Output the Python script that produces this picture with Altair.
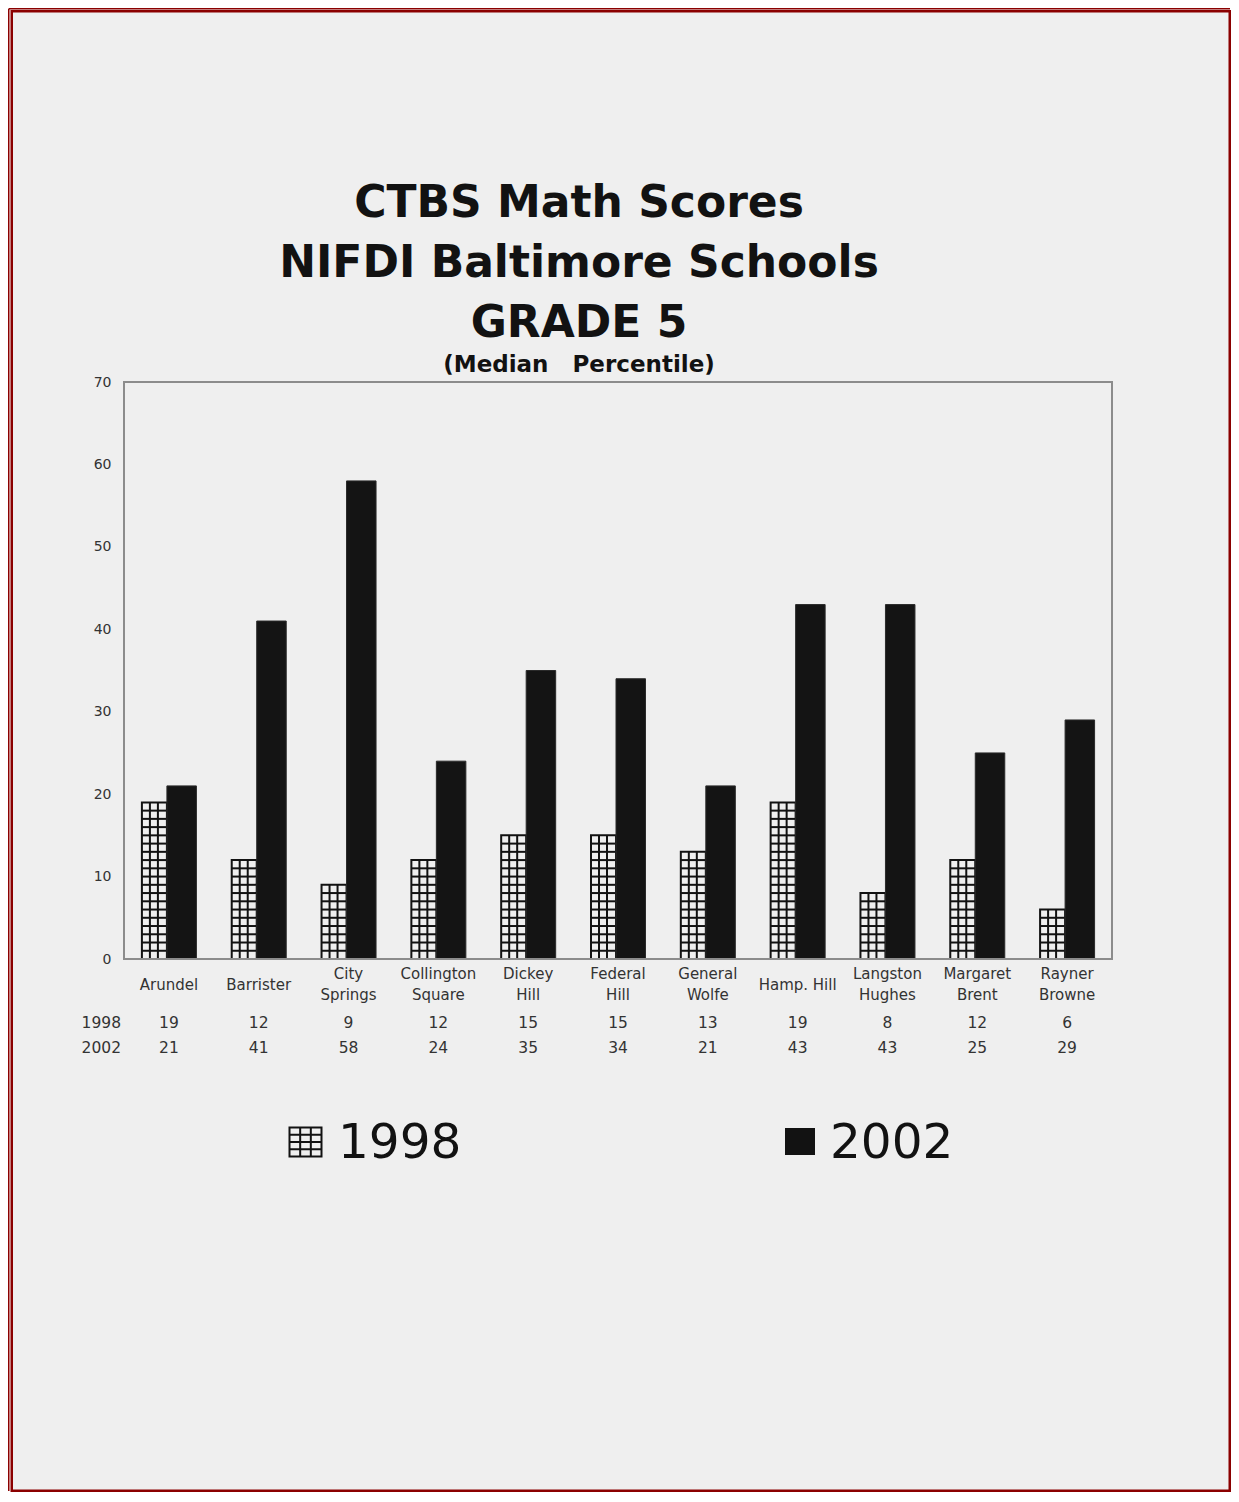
import altair as alt
import pandas as pd

# ---------------- data ----------------
schools = ["Arundel", "Barrister", "City Springs", "Collington Square", "Dickey Hill",
           "Federal Hill", "General Wolfe", "Hamp. Hill", "Langston Hughes",
           "Margaret Brent", "Rayner Browne"]
scores_1998 = [19, 12, 9, 12, 15, 15, 13, 19, 8, 12, 6]
scores_2002 = [21, 41, 58, 24, 35, 34, 21, 43, 43, 25, 29]
years = ["1998", "2002"]
title_lines = ["CTBS Math Scores", "NIFDI Baltimore Schools", "GRADE 5"]
subtitle = "(Median\u00a0\u00a0\u00a0Percentile)"
y_ticks = [0, 10, 20, 30, 40, 50, 60, 70]
one_line_labels = ["Arundel", "Barrister", "Hamp. Hill"]

# ---------------- styling ----------------
W, H = 988, 577
BG = "#efefef"
INK = "#121212"
RED = "#8b0000"
FONT = "DejaVu Sans"

df = pd.DataFrame({"school": schools, "s1998": scores_1998, "s2002": scores_2002})
levels = pd.DataFrame([{"school": s, "level": k}
                       for s, v in zip(schools, scores_1998) for k in range(1, v)])
one = pd.DataFrame({"k": [0]})

single_test = "indexof([" + ",".join("'%s'" % s for s in one_line_labels) + "], datum.value) >= 0"

x_axis = alt.Axis(
    title=None, labelAngle=0, tickSize=0, ticks=False, domain=False,
    labelPadding={"condition": {"test": single_test, "value": 25}, "value": 14},
    labelBaseline="middle", labelLineHeight=21,
    labelFont=FONT, labelFontSize=15, labelColor="#333333",
    labelOverlap=False, labelLimit=200, zindex=2,
    labelExpr=single_test.replace("datum.value", "datum.label")
    + " ? datum.label : split(datum.label, ' ')",
)
y_axis = alt.Axis(
    title=None, values=y_ticks, tickSize=0, ticks=False, domain=False, grid=False,
    labelPadding=13, labelFont=FONT, labelFontSize=14, labelColor="#333333", zindex=2,
)


def X():
    return alt.X("school:N", sort=schools,
                 scale=alt.Scale(type="band", paddingInner=0, paddingOuter=0),
                 axis=x_axis)


def Y(field):
    return alt.Y(field, scale=alt.Scale(domain=[0, 70], nice=False, zero=True), axis=y_axis)


layers = []

# page frame (inner red border with light fill) and outer thin border lines
layers.append(alt.Chart(one).mark_rect(fill=BG, stroke=RED, strokeWidth=2.5).encode(
    x=alt.value(-112.25), x2=alt.value(1105.75), y=alt.value(-370.75), y2=alt.value(1108.75)))
layers.append(alt.Chart(one).mark_rule(stroke=RED, strokeWidth=1.5).encode(
    x=alt.value(-115.25), y=alt.value(-373.25), y2=alt.value(1109)))
layers.append(alt.Chart(one).mark_rule(stroke=RED, strokeWidth=1.5).encode(
    x=alt.value(-115.25), x2=alt.value(1106), y=alt.value(-373.25)))

# 1998 bars (grid-hatched)
layers.append(alt.Chart(df).mark_bar(width=25, xOffset=-14.5, fill=BG, stroke=INK,
                                     strokeWidth=2).encode(x=X(), y=Y("s1998:Q")))
for off in (-19, -11):
    layers.append(alt.Chart(df).mark_rule(xOffset=off, stroke=INK, strokeWidth=2).encode(
        x=X(), y=Y("s1998:Q"), y2=alt.datum(0)))
layers.append(alt.Chart(levels).mark_tick(orient="horizontal", size=25, thickness=2,
                                          xOffset=-14.5, color=INK, opacity=1).encode(
    x=X(), y=Y("level:Q")))

# 2002 bars (solid)
layers.append(alt.Chart(df).mark_bar(width=29.5, xOffset=12.75, fill="#141414",
                                     stroke="#2a2a2a", strokeWidth=1).encode(
    x=X(), y=Y("s2002:Q")))

# plot frame
layers.append(alt.Chart(one).mark_rect(fill=None, stroke="#8c8c8c", strokeWidth=2).encode(
    x=alt.value(0), x2=alt.value(W), y=alt.value(0), y2=alt.value(H)))

# data table under the axis
for yr, field, ypos in ((years[0], "s1998:Q", 641), (years[1], "s2002:Q", 666)):
    layers.append(alt.Chart(df).mark_text(font=FONT, fontSize=15.5, color="#333333",
                                          baseline="middle", align="center").encode(
        x=X(), y=alt.value(ypos), text=field))
    layers.append(alt.Chart(pd.DataFrame({"year": [yr]})).mark_text(
        font=FONT, fontSize=15.5, color="#333333", baseline="middle", align="right").encode(
        x=alt.value(-3), y=alt.value(ypos), text="year:N"))

# titles
for line, ypos in zip(title_lines, (-165, -105, -45)):
    layers.append(alt.Chart(pd.DataFrame({"t": [line]})).mark_text(
        font=FONT, fontSize=44, fontWeight="bold", color=INK, align="center",
        baseline="alphabetic").encode(x=alt.value(455), y=alt.value(ypos), text="t:N"))
layers.append(alt.Chart(pd.DataFrame({"t": [subtitle]})).mark_text(
    font=FONT, fontSize=23, fontWeight="bold", color=INK, align="center",
    baseline="alphabetic").encode(x=alt.value(455), y=alt.value(-10), text="t:N"))

# legend
hatch_path = ("M-1,-0.9H1V0.9H-1Z M-0.333,-0.9V0.9 M0.333,-0.9V0.9 "
              "M-1,-0.45H1 M-1,0H1 M-1,0.45H1")
layers.append(alt.Chart(one).mark_point(shape=hatch_path, size=1024, filled=False,
                                        stroke=INK, strokeWidth=2, opacity=1).encode(
    x=alt.value(181.5), y=alt.value(760)))
layers.append(alt.Chart(one).mark_point(shape="M-1,-0.9H1V0.9H-1Z", size=900, filled=True,
                                        fill=INK, stroke=INK, strokeWidth=0, opacity=1).encode(
    x=alt.value(676), y=alt.value(759.5)))
for yr, xpos in zip(years, (214, 706)):
    layers.append(alt.Chart(pd.DataFrame({"year": [yr]})).mark_text(
        font=FONT, fontSize=48.5, color=INK, align="left", baseline="alphabetic").encode(
        x=alt.value(xpos), y=alt.value(776), text="year:N"))

chart = alt.layer(*layers).properties(
    width=W, height=H, padding=0, background="white"
).configure_view(strokeWidth=0)

chart.save("out.html", embed_options={"renderer": "svg", "actions": False})
